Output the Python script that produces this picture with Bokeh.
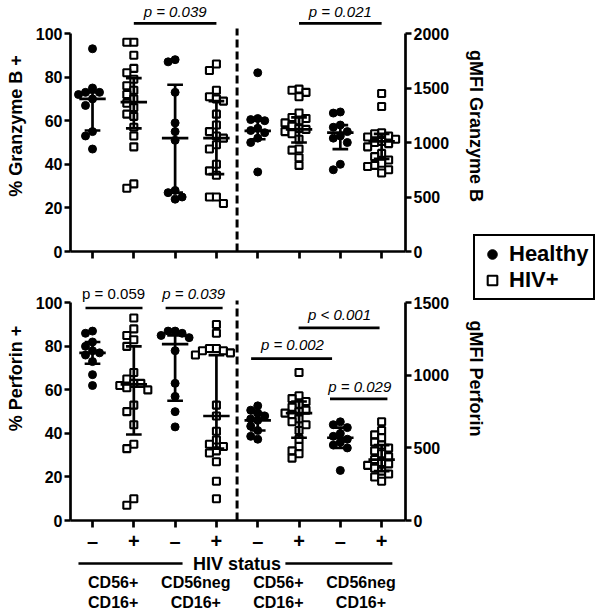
import numpy as np
from bokeh.plotting import figure
from bokeh.models import (Range1d, LinearAxis, FixedTicker, ColumnDataSource,
                          Label, Legend, LegendItem)
from bokeh.layouts import column
from bokeh.embed import file_html
from bokeh.resources import INLINE
from bokeh.core.properties import value

# ---------------- data ----------------
categories = [1, 2, 3, 4, 5, 6, 7, 8]
hiv_status = ["–", "+", "–", "+", "–", "+", "–", "+"]
hiv_status_title = "HIV status"
hiv_bracket_from = [0.66, 5.67]
hiv_bracket_to = [3.18, 8.26]
subset_pos = [1.5, 3.5, 5.5, 7.5]
subset_labels = ["CD56+\nCD16+", "CD56neg\nCD16+", "CD56+\nCD16+", "CD56neg\nCD16+"]
legend_labels = ["Healthy", "HIV+"]

# Panel A: % Granzyme B+ (groups 1-4, left axis) and gMFI Granzyme B (groups 5-8, right axis)
a_pct_cd56pos_healthy = [93, 75, 73, 73, 72, 70, 67, 55, 53, 47]
a_pct_cd56pos_hiv = [96, 96, 90, 84, 82, 79, 76, 74, 72, 70, 68, 66, 63, 62, 57, 53, 48, 31, 29]
a_pct_cd56neg_healthy = [88, 87, 73, 59, 55, 51, 28, 27, 25, 24]
a_pct_cd56neg_hiv = [86, 83, 74, 71, 70, 69, 63, 58, 55, 53, 52, 49, 47, 40, 37, 35, 25, 25, 22]
a_mfi_cd56pos_healthy = [1640, 1220, 1210, 1200, 1130, 1110, 1090, 1040, 1000, 730]
a_mfi_cd56pos_hiv = [1490, 1480, 1460, 1420, 1270, 1230, 1220, 1200, 1180, 1150, 1130, 1120,
                     1100, 1080, 1030, 940, 930, 860, 790]
a_mfi_cd56neg_healthy = [1280, 1270, 1160, 1140, 1100, 1060, 1040, 1000, 800, 750]
a_mfi_cd56neg_hiv = [1450, 1330, 1090, 1080, 1060, 1050, 1030, 1010, 1000, 990, 960, 900,
                     870, 840, 810, 790, 780, 750, 720]
a_median = [70, 68.5, 52, 52, 1106, 1120, 1090, 1010]
a_q1 = [55.5, 56.5, 27, 35.5, 1030, 1000, 940, 850]
a_q3 = [73, 79.5, 76.5, 69, 1200, 1230, 1160, 1080]
a_p_text = ["p = 0.039", "p = 0.021"]
a_p_from = [2, 6]
a_p_to = [4, 8]
a_p_level = [104.6, 104.6]
a_p_style = ["italic", "italic"]

# Panel B: % Perforin+ (groups 1-4, left axis) and gMFI Perforin (groups 5-8, right axis)
b_pct_cd56pos_healthy = [87, 86, 82, 80, 78, 77, 76, 73, 67, 62]
b_pct_cd56pos_hiv = [93, 88, 85, 83, 80, 68, 65, 63, 63, 62, 61, 60, 53, 50, 44, 35, 33, 10, 7]
b_pct_cd56neg_healthy = [87, 87, 86, 85, 84, 78, 63, 57, 50, 43]
b_pct_cd56neg_hiv = [90, 86, 79, 79, 78, 78, 77, 76, 53, 48, 41, 37, 35, 34, 32, 31, 27, 18, 10]
b_mfi_cd56pos_healthy = [790, 760, 740, 720, 700, 690, 650, 620, 580, 560]
b_mfi_cd56pos_hiv = [1020, 860, 840, 820, 800, 780, 760, 750, 740, 730, 700, 680, 660, 620,
                     560, 510, 480, 460, 430]
b_mfi_cd56neg_healthy = [680, 660, 640, 600, 580, 560, 540, 520, 500, 345]
b_mfi_cd56neg_hiv = [680, 620, 590, 570, 540, 520, 500, 480, 460, 440, 420, 400, 390, 380,
                     360, 340, 320, 300, 270]
b_median = [77, 62.5, 81, 48, 690, 740, 570, 420]
b_q1 = [72, 39.5, 55, 33, 620, 570, 500, 340]
b_q3 = [82, 80, 85, 76, 740, 820, 640, 520]
b_p_text = ["p = 0.059", "p = 0.039", "p = 0.002", "p < 0.001", "p = 0.029"]
b_p_from = [0.83, 2.77, 4.84, 5.99, 6.75]
b_p_to = [2.21, 4.15, 6.80, 7.95, 8.14]
b_p_level = [97.6, 97.6, 74.4, 88.5, 55.9]
b_p_style = ["normal", "italic", "italic", "italic", "italic"]

# ---------------- layout constants ----------------
FONT = "Liberation Sans"
W = 600
FL, FR = 70, 195
XR = (0.467, 8.578)
XPX = (W - FL - FR) / (XR[1] - XR[0])
LW = 2.7


def swarm(vals, center, ypx, step=7.0, mind=7.0):
    vals = np.asarray(vals, float)
    order = np.argsort(-vals, kind="stable")
    placed = []
    xs = np.empty(len(vals))
    for i in order:
        yv = vals[i] * ypx
        ox = 0.0
        for k in (0, -1, 1, -2, 2, -3, 3, -4, 4):
            ox = k * step
            if all((ox - a) ** 2 + (yv - b) ** 2 >= mind ** 2 for a, b in placed):
                break
        placed.append((ox, yv))
        xs[i] = center + ox / XPX
    return xs


def style_axis(ax):
    ax.axis_line_width = LW
    ax.axis_line_color = "black"
    ax.major_tick_line_width = LW
    ax.major_tick_line_color = "black"
    ax.major_tick_out = 6
    ax.major_tick_in = 0
    ax.minor_tick_line_color = None
    ax.major_label_text_font = FONT
    ax.major_label_text_font_style = "bold"
    ax.major_label_text_font_size = "16px"
    ax.major_label_text_color = "black"
    ax.major_label_standoff = 2
    ax.axis_label_text_font = FONT
    ax.axis_label_text_font_style = "bold"
    ax.axis_label_text_font_size = "18px"
    ax.axis_label_text_color = "black"


def strip(height, x_range, y_range):
    s = figure(width=W, height=height, output_backend="svg", toolbar_location=None,
               x_range=x_range, y_range=y_range, x_axis_type=None, y_axis_type=None,
               min_border_left=0, min_border_right=0, min_border_top=0, min_border_bottom=0)
    s.frame_align = False
    s.outline_line_color = None
    s.border_fill_alpha = 0
    s.background_fill_alpha = 0
    return s


def build_panel(height, bottom, ypx, groups, med, q1, q3, right_max, right_ticks,
                ylabel, rlabel, dash_top, ptext, pfrom, pto, plevel, pstyle,
                ptext_x, ptext_y, letter, letter_xy):
    ytop = (height - bottom) / ypx
    p = figure(width=W, height=height, output_backend="svg", toolbar_location=None,
               x_range=Range1d(*XR), y_range=Range1d(0, ytop),
               x_axis_type=None, y_axis_type=None,
               min_border_left=FL, min_border_right=FR,
               min_border_top=0, min_border_bottom=bottom)
    p.outline_line_color = None
    p.border_fill_alpha = 0
    p.background_fill_alpha = 0
    p.extra_y_ranges = {"mfi": Range1d(0, right_max * ytop / 100.0)}
    ypx_r = ypx * 100.0 / right_max

    left = LinearAxis(ticker=FixedTicker(ticks=[0, 20, 40, 60, 80, 100]), bounds=(0, 100),
                      axis_label=ylabel)
    style_axis(left)
    left.axis_label_standoff = 7
    p.add_layout(left, "left")
    right = LinearAxis(y_range_name="mfi", ticker=FixedTicker(ticks=right_ticks),
                       bounds=(0, right_max), axis_label=rlabel)
    style_axis(right)
    right.axis_label_standoff = 14
    p.add_layout(right, "right")

    # dashed separator
    p.segment(x0=[4.5], y0=[0], x1=[4.5], y1=[dash_top], line_width=3,
              line_color="black", line_dash="8 4")

    renderers = {}
    for key, idxs, rng, yp in [("h", [0, 2], "default", ypx), ("v", [1, 3], "default", ypx),
                               ("h2", [4, 6], "mfi", ypx_r), ("v2", [5, 7], "mfi", ypx_r)]:
        xs, ys = [], []
        for i in idxs:
            xs += list(swarm(groups[i], categories[i], yp))
            ys += list(groups[i])
        src = ColumnDataSource(dict(x=xs, y=ys))
        if key.startswith("h"):
            r = p.scatter("x", "y", source=src, marker="circle", size=8,
                          fill_color="black", line_color="black", y_range_name=rng)
        else:
            r = p.scatter("x", "y", source=src, marker="square", size=7,
                          fill_color="white", line_color="black", line_width=2.1,
                          y_range_name=rng)
        renderers[key] = r

    for rng, idxs in [("default", range(0, 4)), ("mfi", range(4, 8))]:
        cx = [categories[i] for i in idxs]
        lo = [q1[i] for i in idxs]
        hi = [q3[i] for i in idxs]
        md = [med[i] for i in idxs]
        p.segment(x0=cx, y0=lo, x1=cx, y1=hi, line_width=LW, line_color="black",
                  y_range_name=rng)
        p.segment(x0=[c - 0.32 for c in cx], y0=md, x1=[c + 0.32 for c in cx], y1=md,
                  line_width=LW, line_color="black", y_range_name=rng)
        p.segment(x0=[c - 0.19 for c in cx] * 2, y0=lo + hi, x1=[c + 0.19 for c in cx] * 2,
                  y1=lo + hi, line_width=LW, line_color="black", y_range_name=rng)

    psrc = ColumnDataSource(dict(x0=pfrom, x1=pto, ly=plevel, tx=ptext_x, ty=ptext_y,
                                 text=ptext, style=pstyle))
    p.segment("x0", "ly", "x1", "ly", source=psrc, line_width=LW, line_color="black")
    p.text("tx", "ty", text="text", source=psrc, text_font=value(FONT),
           text_font_style="style", text_font_size=value("15px"), text_align="center",
           text_baseline="middle", text_color="black")

    p.add_layout(Label(x=letter_xy[0], y=letter_xy[1], text=letter, text_font=FONT,
                       text_font_style="bold", text_font_size="27px",
                       text_baseline="top", text_align="left", text_color="black"))
    return p, renderers


# ---------------- panel A ----------------
HA, HA_B = 271, 20
A_YPX = 2.18
pA, rA = build_panel(
    HA, HA_B, A_YPX,
    [a_pct_cd56pos_healthy, a_pct_cd56pos_hiv, a_pct_cd56neg_healthy, a_pct_cd56neg_hiv,
     a_mfi_cd56pos_healthy, a_mfi_cd56pos_hiv, a_mfi_cd56neg_healthy, a_mfi_cd56neg_hiv],
    a_median, a_q1, a_q3, 2000, [0, 500, 1000, 1500, 2000],
    "% Granzyme B +", "gMFI Granzyme B", 102.3,
    a_p_text, a_p_from, a_p_to, a_p_level, a_p_style,
    [(a + b) / 2 for a, b in zip(a_p_from, a_p_to)], [l + 5.7 for l in a_p_level],
    "A", (-1.18, 109.2))
xa = LinearAxis(ticker=FixedTicker(ticks=categories),
                major_label_overrides={c: "" for c in categories})
style_axis(xa)
xa.major_tick_out = 7
xa.major_label_text_font_size = "0px"
xa.major_label_standoff = 0
pA.add_layout(xa, "below")

# ---------------- panel B ----------------
HB, HB_B = 377, 90
B_YPX = 2.2
pB, rB = build_panel(
    HB, HB_B, B_YPX,
    [b_pct_cd56pos_healthy, b_pct_cd56pos_hiv, b_pct_cd56neg_healthy, b_pct_cd56neg_hiv,
     b_mfi_cd56pos_healthy, b_mfi_cd56pos_hiv, b_mfi_cd56neg_healthy, b_mfi_cd56neg_hiv],
    b_median, b_q1, b_q3, 1500, [0, 500, 1000, 1500],
    "% Perforin +", "gMFI Perforin", 101,
    b_p_text, b_p_from, b_p_to, b_p_level, b_p_style,
    [1.51, 3.45, 5.84, 6.98, 7.47], [104.4, 104.4, 80.9, 94.5, 61.6],
    "B", (-1.15, 108.2))

xb = LinearAxis(ticker=FixedTicker(ticks=categories),
                major_label_overrides=dict(zip(categories, hiv_status)))
style_axis(xb)
xb.major_tick_out = 7
xb.major_label_text_font_size = "20px"
xb.major_label_standoff = 2
pB.add_layout(xb, "below")

xb2 = LinearAxis(ticker=FixedTicker(ticks=subset_pos),
                 major_label_overrides=dict(zip(subset_pos, subset_labels)))
style_axis(xb2)
xb2.axis_line_color = None
xb2.major_tick_line_color = None
xb2.major_tick_out = 0
xb2.major_label_standoff = 19
xb2.major_label_text_font_size = "16px"
pB.add_layout(xb2, "below")

# ---------------- legend strip (between the panels) ----------------
HL, L_TOP = 90, 226
pL = strip(HL, Range1d(0, W), Range1d(0, HL))
# legend proxies: one undrawn (NaN) point each, used only for the legend swatches
lh = pL.scatter(x=[np.nan], y=[np.nan], marker="circle", size=12, fill_color="black",
                line_color="black")
lv = pL.scatter(x=[np.nan], y=[np.nan], marker="square", size=9, fill_color="white",
                line_color="black", line_width=2.1)
legend = Legend(items=[LegendItem(label=legend_labels[0], renderers=[lh]),
                       LegendItem(label=legend_labels[1], renderers=[lv])],
                location=(473, 16), orientation="vertical",
                border_line_color="black", border_line_width=2, border_line_alpha=1,
                padding=5, spacing=0,
                margin=0, glyph_height=24, glyph_width=24, label_height=24,
                label_standoff=5, label_text_font=FONT, label_text_font_style="bold",
                label_text_font_size="22px", label_text_color="black",
                background_fill_color="white", background_fill_alpha=1)
pL.add_layout(legend)

# ---------------- "HIV status" bracket strip (under the -/+ labels) ----------------
HS, S_TOP = 24, 551
pS = strip(HS, Range1d(XR[0] - FL / XPX, XR[1] + FR / XPX), Range1d(0, HS))
pS.segment(x0=hiv_bracket_from, y0=[HS / 2] * 2, x1=hiv_bracket_to, y1=[HS / 2] * 2,
           line_width=LW, line_color="black")
pS.text(x=[4.5], y=[HS / 2], text=[hiv_status_title], text_font=value(FONT),
        text_font_style="bold", text_font_size=value("18px"), text_align="center",
        text_baseline="middle", text_color="black")

B_TOP = 236
pL.margin = (L_TOP - HA, 0, 0, 0)
pB.margin = (B_TOP - (L_TOP + HL), 0, 0, 0)
pS.margin = (S_TOP - (B_TOP + HB), 0, 0, 0)

layout = column(pA, pL, pB, pS)
open("out.html", "w").write(file_html(layout, INLINE, title="Granzyme B and Perforin"))
